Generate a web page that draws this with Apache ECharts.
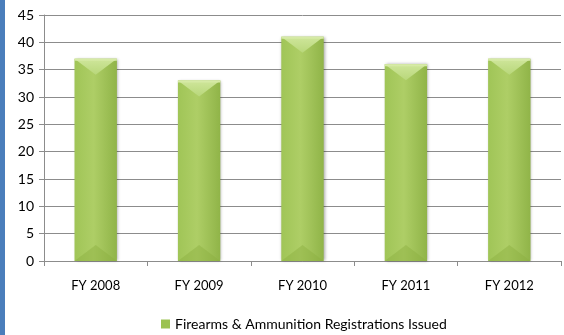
<!DOCTYPE html>
<html>
<head>
<meta charset="utf-8">
<script src="https://cdn.jsdelivr.net/npm/echarts@6/dist/echarts.min.js"></script>
<style>html,body{margin:0;padding:0;background:#fff;}#c{width:564px;height:335px;}</style>
</head>
<body>
<div id="c"></div>
<script>
var categories = ['FY 2008', 'FY 2009', 'FY 2010', 'FY 2011', 'FY 2012'];
var registrations = [37, 33, 41, 36, 37];
var seriesName = 'Firearms & Ammunition Registrations Issued';

var chart = echarts.init(document.getElementById('c'));
var FONT = 'Lato';
chart.setOption({
  animation: false,
  graphic: [{type: 'rect', shape: {x: 0, y: 0, width: 5, height: 335}, style: {fill: '#4a7ebb'}}],
  grid: {left: 44, right: 3, top: 15, bottom: 74},
  legend: {
    top: 312, left: 156, itemWidth: 9, itemHeight: 9, icon: 'rect', itemGap: 3,
    textStyle: {fontFamily: FONT, fontSize: 14, color: '#000'},
    data: [{name: seriesName, itemStyle: {color: '#9bc250'}}]
  },
  xAxis: {
    type: 'category', data: categories,
    axisLine: {lineStyle: {color: '#8c8c8c'}},
    axisTick: {show: true, length: 5, lineStyle: {color: '#8c8c8c'}},
    axisLabel: {fontFamily: FONT, fontSize: 13, color: '#000', margin: 18}
  },
  yAxis: {
    type: 'value', min: 0, max: 45, interval: 5,
    axisLine: {show: true, lineStyle: {color: '#8c8c8c'}},
    axisTick: {show: true, length: 5, lineStyle: {color: '#8c8c8c'}},
    splitLine: {lineStyle: {color: '#8c8c8c'}},
    axisLabel: {fontFamily: FONT, fontSize: 14, color: '#000', margin: 10}
  },
  series: [{
    type: 'custom', name: seriesName, data: registrations,
    itemStyle: {color: '#9bc250'},
    renderItem: function (params, api) {
      var top = api.coord([api.value(0), api.value(1)]);
      var bot = api.coord([api.value(0), 0]);
      var bw = api.size([1, 0])[0] * 0.41;
      var x0 = top[0] - bw / 2, x1 = top[0] + bw / 2, xc = top[0];
      var yT = top[1], yB = bot[1];
      var d = Math.min(16, (yB - yT) / 3);
      return {
        type: 'group', children: [
          {type: 'rect', shape: {x: x0, y: yT, width: bw, height: yB - yT},
           style: {fill: new echarts.graphic.LinearGradient(0, 0, 1, 0, [
             {offset: 0, color: '#a0c557'}, {offset: 0.45, color: '#aece66'}, {offset: 1, color: '#90b448'}]),
             shadowColor: 'rgba(0,0,0,0.35)', shadowBlur: 3, shadowOffsetX: 1, shadowOffsetY: 0}},
          {type: 'polygon', shape: {points: [[x0, yT], [x1, yT], [xc, yT + d]]},
           style: {fill: new echarts.graphic.LinearGradient(0, 0, 0, 1, [
             {offset: 0, color: '#cfe69b'}, {offset: 1, color: '#b8d77a'}])}},
          {type: 'polygon', shape: {points: [[x0, yB], [x1, yB], [xc, yB - d]]},
           style: {fill: 'rgba(140,175,65,0.45)'}},
          {type: 'rect', shape: {x: x0, y: yT, width: bw, height: 2}, style: {fill: '#d6eaa6'}}
        ]
      };
    }
  }]
});
</script>
</body>
</html>
